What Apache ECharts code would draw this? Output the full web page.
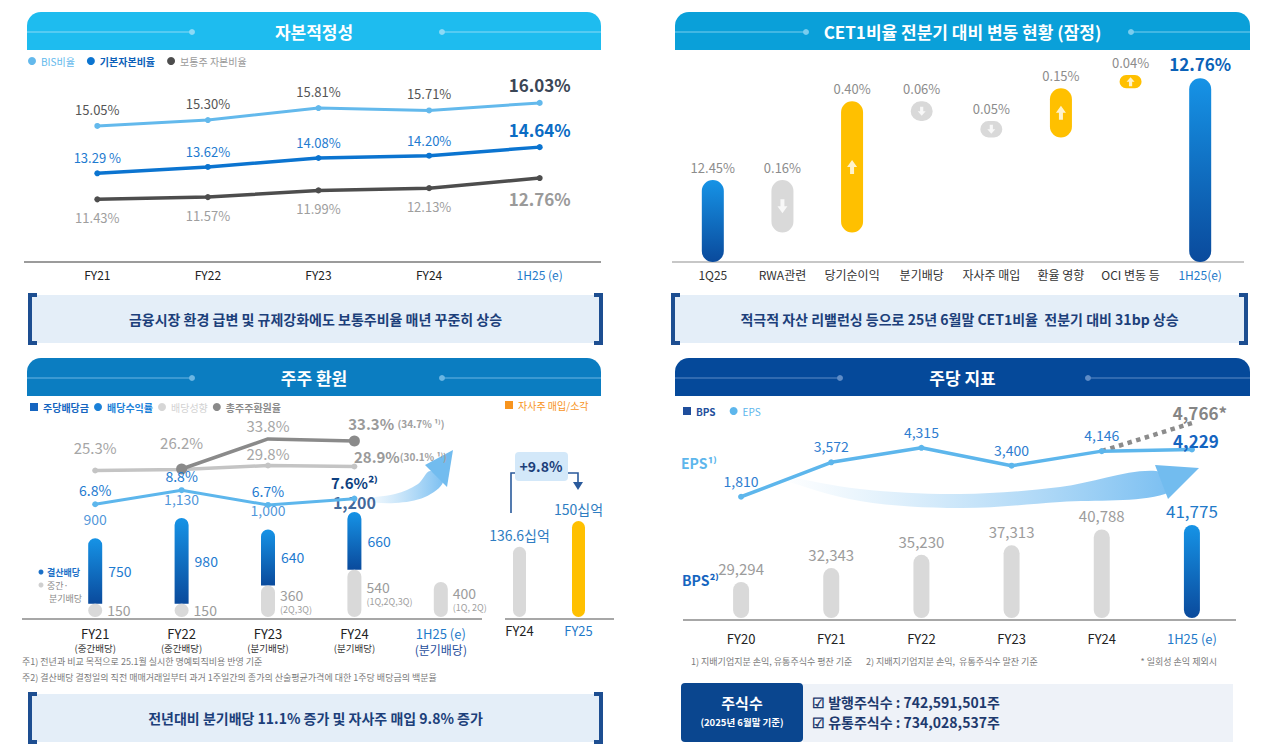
<!DOCTYPE html>
<html>
<head>
<meta charset="utf-8">
<title>자본적정성 · CET1 · 주주환원 · 주당지표</title>
<style>
html,body{margin:0;padding:0;background:#fff;}
#main{width:1264px;height:750px;}
</style>
</head>
<body>
<div id="main"></div>
<script src="https://cdn.jsdelivr.net/npm/echarts@6/dist/echarts.min.js"></script>
<script>
var FONT = "'Noto Sans CJK KR', 'Noto Sans', sans-serif";

// 자본적정성 (%)
var capYears = ['FY21', 'FY22', 'FY23', 'FY24', '1H25 (e)'];
var bisRatio = [15.05, 15.30, 15.81, 15.71, 16.03];
var tier1Ratio = [13.29, 13.62, 14.08, 14.20, 14.64];
var cet1Ratio = [11.43, 11.57, 11.99, 12.13, 12.76];

// CET1비율 전분기 대비 변동 (%p)
var cetSteps = ['1Q25', 'RWA관련', '당기순이익', '분기배당', '자사주 매입', '환율 영향', 'OCI 변동 등', '1H25(e)'];
var cetChange = [12.45, -0.16, 0.40, -0.06, -0.05, 0.15, 0.04, 12.76];

// 주주 환원
var dpsYears = ['FY21', 'FY22', 'FY23', 'FY24', '1H25 (e)'];
var dpsNotes = ['(중간배당)', '(중간배당)', '(분기배당)', '(분기배당)', '(분기배당)'];
var dpsTotal = [900, 1130, 1000, 1200, null];
var dpsFinal = [750, 980, 640, 660, null];
var dpsInterim = [150, 150, 360, 540, 400];
var dpsQuarters = ['', '', '(2Q,3Q)', '(1Q,2Q,3Q)', '(1Q, 2Q)'];
var divYield = [6.8, 8.8, 6.7, 7.6, null];
var payoutRatio = [25.3, 26.2, 29.8, 28.9, null];
var tsrRatio = [null, 26.2, 33.8, 33.3, null];
var buybackYears = ['FY24', 'FY25'];
var buybackAmt = [136.6, 150];

// 주당 지표 (원)
var psYears = ['FY20', 'FY21', 'FY22', 'FY23', 'FY24', '1H25 (e)'];
var eps = [1810, 3572, 4315, 3400, 4146, 4229];
var epsExOneOff = [null, null, null, null, 4146, 4766];
var bps = [29294, 32343, 35230, 37313, 40788, 41775];

var chart = echarts.init(document.getElementById('main'), null, {renderer: 'svg'});

function grad(a, b) {
  return new echarts.graphic.LinearGradient(0, 0, 0, 1, [{offset: 0, color: a}, {offset: 1, color: b}]);
}
var BLUE = grad('#1693E6', '#0A4A9C');
function fmt(n) { return n.toLocaleString('en-US'); }

function txt(x, y, s, o) {
  o = o || {};
  return {
    type: 'text', x: x, y: y, z: 20,
    style: {
      text: s, fill: o.fill || '#333', fontSize: o.fontSize || 12,
      fontWeight: o.fontWeight || 'normal', fontFamily: FONT,
      align: o.align || 'left', textAlign: o.align || 'left',
      verticalAlign: 'middle', textVerticalAlign: 'middle'
    }
  };
}
function header(x, y, w, fill, lineColor, title, lx, rx) {
  var ly = y + 20;
  return [
    {type: 'rect', shape: {x: x, y: y, width: w, height: 38, r: [14, 14, 0, 0]}, style: {fill: fill}},
    {type: 'line', shape: {x1: x, y1: ly, x2: lx, y2: ly}, style: {stroke: lineColor, lineWidth: 1.2}},
    {type: 'circle', shape: {cx: lx, cy: ly, r: 3}, style: {fill: lineColor}},
    {type: 'line', shape: {x1: rx, y1: ly, x2: x + w, y2: ly}, style: {stroke: lineColor, lineWidth: 1.2}},
    {type: 'circle', shape: {cx: rx, cy: ly, r: 3}, style: {fill: lineColor}},
    txt(x + w / 2, y + 19, title, {fill: '#fff', fontSize: 17, fontWeight: 'bold', align: 'center'})
  ];
}
function banner(x, y, w, h, s) {
  var c = '#1D4E91';
  return [
    {type: 'rect', shape: {x: x, y: y, width: w, height: h}, style: {fill: '#E4EEF8'}},
    {type: 'polyline', shape: {points: [[x + 7, y], [x, y], [x, y + h], [x + 7, y + h]]}, style: {stroke: c, lineWidth: 4, fill: null}},
    {type: 'polyline', shape: {points: [[x + w - 7, y], [x + w, y], [x + w, y + h], [x + w - 7, y + h]]}, style: {stroke: c, lineWidth: 4, fill: null}},
    txt(x + w / 2, y + h / 2, s, {fill: '#1C3F7A', fontSize: 14, fontWeight: 'bold', align: 'center'})
  ];
}
function baseline(x1, x2, y, c) {
  return {type: 'line', shape: {x1: x1, y1: y, x2: x2, y2: y}, style: {stroke: c || '#8a8a8a', lineWidth: 1.5}};
}
function swoosh(upper, lower, head) {
  var fill = new echarts.graphic.LinearGradient(0, 0, 1, 0, [
    {offset: 0, color: 'rgba(150,205,244,0)'}, {offset: 1, color: 'rgba(110,185,240,0.9)'}]);
  return [
    {type: 'polygon', z: 1, shape: {points: upper.concat(lower), smooth: 0.35}, style: {fill: fill}},
    {type: 'polygon', z: 1, shape: {points: head}, style: {fill: '#72BCEF'}}
  ];
}

// --- waterfall pieces from cetChange
var CET_MIN = 12.2;
var cetBase = [], cetBar = [], cetArrow = [];
var run = cetChange[0];
cetChange.forEach(function (v, i) {
  var last = i === cetChange.length - 1;
  if (i === 0 || last) {
    cetBase.push(CET_MIN);
    cetBar.push({value: v - CET_MIN, itemStyle: {color: BLUE},
      label: last ? {color: '#0B62B8', fontSize: 17, fontWeight: 'bold'} : {}});
  } else {
    var lo = v < 0 ? run + v : run;
    run += v;
    cetBase.push(lo);
    cetBar.push({value: Math.abs(v), itemStyle: {color: v < 0 ? '#D9D9D9' : '#FFC000'}});
    cetArrow.push({value: [i, lo + Math.abs(v) / 2], symbolRotate: v < 0 ? 180 : 0,
      symbolSize: Math.abs(v) >= 0.1 ? [10, 14] : [8, 9]});
  }
});

function lastBold(arr, style) {
  return arr.map(function (v, i) {
    return i === arr.length - 1 ? {value: v, label: style} : v;
  });
}
var ARROW = 'path://M5,0 L10,5 L7,5 L7,10 L3,10 L3,5 L0,5 Z';
var hidden = {show: false};

var graphics = []
  .concat(header(27, 12, 574, '#1EBCEF', '#8BDAF6', '자본적정성', 192, 442))
  .concat(header(675, 12, 575, '#0AA0D9', '#7ACDEE', 'CET1비율 전분기 대비 변동 현황 (잠정)', 806, 1131))
  .concat(header(27, 358, 574, '#0B7DC1', '#6CB6E3', '주주 환원', 192, 442))
  .concat(header(675, 358, 575, '#05499A', '#5F8CC6', '주당 지표', 840, 1088))
  .concat(banner(30, 295, 571, 48, '금융시장 환경 급변 및 규제강화에도 보통주비율 매년 꾸준히 상승'))
  .concat(banner(673, 295, 573, 48, '적극적 자산 리밸런싱 등으로 25년 6월말 CET1비율  전분기 대비 31bp 상승'))
  .concat(banner(30, 694, 571, 48, '전년대비 분기배당 11.1% 증가 및 자사주 매입 9.8% 증가'))
  .concat([
    baseline(24, 601, 262, '#7a7a7a'),
    baseline(672, 1244, 262, '#b5b5b5'),
    baseline(22, 482, 619, '#8a8a8a'),
    baseline(505, 614, 619, '#8a8a8a'),
    baseline(683, 1236, 620, '#8a8a8a')
  ])
  .concat(swoosh([[360, 499], [395, 494], [418, 484], [430, 471]], [[443, 482], [425, 497], [395, 503], [360, 501]],
    [[425, 465], [453, 450], [447, 487]]))
  .concat(swoosh([[780, 476], [860, 489], [960, 494], [1060, 487], [1156, 471]],
    [[1165, 494], [1060, 502], [960, 508], [860, 501], [780, 479]],
    [[1155, 465], [1199, 468], [1168, 499]]))
  .concat([
    // 결산/중간 mini legend
    {type: 'circle', shape: {cx: 41, cy: 572, r: 2.5}, style: {fill: '#1A6FC7'}},
    txt(47, 572, '결산배당', {fill: '#1A6FC7', fontSize: 9, fontWeight: 'bold'}),
    {type: 'circle', shape: {cx: 41, cy: 585, r: 2.5}, style: {fill: '#cfcfcf'}},
    txt(47, 585, '중간·', {fill: '#8a8a8a', fontSize: 9}),
    txt(49, 598, '분기배당', {fill: '#8a8a8a', fontSize: 9}),
    // +9.8% callout
    {type: 'rect', shape: {x: 515, y: 452, width: 53, height: 29, r: 4}, style: {fill: '#D3E8F9'}},
    txt(541, 466, '+9.8%', {fill: '#1C3F7A', fontSize: 14, fontWeight: 'bold', align: 'center'}),
    {type: 'polyline', shape: {points: [[511, 513], [511, 473], [515, 473]]}, style: {stroke: '#2A5A9C', lineWidth: 1.6, fill: null}},
    {type: 'polyline', shape: {points: [[568, 473], [578, 473], [578, 483]]}, style: {stroke: '#2A5A9C', lineWidth: 1.6, fill: null}},
    {type: 'polygon', shape: {points: [[573, 482], [583, 482], [578, 490]]}, style: {fill: '#2A5A9C'}},
    // footnotes
    txt(22, 661, '주1) 전년과 비교 목적으로 25.1월 실시한 명예퇴직비용 반영 기준', {fill: '#7a7a7a', fontSize: 9}),
    txt(22, 677, '주2) 결산배당 결정일의 직전 매매거래일부터 과거 1주일간의 종가의 산술평균가격에 대한 1주당 배당금의 백분율', {fill: '#7a7a7a', fontSize: 9}),
    txt(691, 661, '1) 지배기업지분 손익, 유통주식수 평잔 기준', {fill: '#7a7a7a', fontSize: 9}),
    txt(866, 661, '2) 지배지기업지분 손익,  유통주식수 말잔 기준', {fill: '#7a7a7a', fontSize: 9}),
    txt(1217, 661, '* 일회성 손익 제외시', {fill: '#7a7a7a', fontSize: 9, align: 'right'}),
    // EPS / BPS side titles
    txt(681, 463, 'EPS¹⁾', {fill: '#5DB6EC', fontSize: 14, fontWeight: 'bold'}),
    txt(682, 580, 'BPS²⁾', {fill: '#1565C0', fontSize: 14, fontWeight: 'bold'}),
    // share count box
    {type: 'rect', shape: {x: 803, y: 684, width: 430, height: 58}, style: {fill: '#EEF2F8'}},
    {type: 'rect', shape: {x: 681, y: 683, width: 122, height: 59, r: 4}, style: {fill: '#0A468F'}},
    txt(742, 702, '주식수', {fill: '#fff', fontSize: 15, fontWeight: 'bold', align: 'center'}),
    txt(742, 722, '(2025년 6월말 기준)', {fill: '#fff', fontSize: 9.5, fontWeight: 'bold', align: 'center'}),
    txt(812, 702, '☑ 발행주식수 : 742,591,501주', {fill: '#1E3A6E', fontSize: 14, fontWeight: 'bold'}),
    txt(812, 722, '☑ 유통주식수 : 734,028,537주', {fill: '#1E3A6E', fontSize: 14, fontWeight: 'bold'})
  ]);

function catLabel(color, lastColor, size) {
  return {
    interval: 0, margin: 6,
    formatter: function (v, i) { return (v.indexOf('1H25') === 0 ? '{b|' : '{a|') + v + '}'; },
    rich: {a: {color: color, fontSize: size}, b: {color: lastColor, fontSize: size}}
  };
}
function catAxis(grid, data, label) {
  return {type: 'category', gridIndex: grid, data: data, axisLine: hidden, axisTick: hidden,
    splitLine: hidden, axisLabel: label};
}
function valAxis(grid, min, max, extra) {
  var a = {type: 'value', gridIndex: grid, min: min, max: max, show: false, splitLine: hidden};
  if (extra) for (var k in extra) a[k] = extra[k];
  return a;
}

var option = {
  backgroundColor: '#fff',
  animation: false,
  textStyle: {fontFamily: FONT},
  graphic: {elements: graphics},
  legend: [
    {left: 28, top: 56, padding: 0, itemWidth: 8, itemHeight: 8, itemGap: 12, icon: 'circle', selectedMode: false,
      textStyle: {fontSize: 10, fontFamily: FONT},
      data: [{name: 'BIS비율', textStyle: {color: '#63B9EC'}},
        {name: '기본자본비율', textStyle: {color: '#0B5FB8', fontWeight: 'bold'}},
        {name: '보통주 자본비율', textStyle: {color: '#9a9a9a'}}]},
    {left: 30, top: 402, padding: 0, itemWidth: 8, itemHeight: 8, itemGap: 5, selectedMode: false,
      textStyle: {fontSize: 10, fontFamily: FONT},
      data: [{name: '주당배당금', icon: 'rect', itemStyle: {color: '#1565C0'}, textStyle: {color: '#1565C0', fontWeight: 'bold'}},
        {name: '배당수익률', icon: 'circle', itemStyle: {color: '#1A80D8'}, textStyle: {color: '#1A80D8', fontWeight: 'bold'}},
        {name: '배당성향', icon: 'circle', itemStyle: {color: '#d6d6d6'}, textStyle: {color: '#d2d2d2'}},
        {name: '총주주환원율', icon: 'circle', itemStyle: {color: '#8a8a8a'}, textStyle: {color: '#8a8a8a', fontWeight: 'bold'}}]},
    {left: 505, top: 400, padding: 0, itemWidth: 8, itemHeight: 8, selectedMode: false,
      textStyle: {fontSize: 10, fontFamily: FONT},
      data: [{name: '자사주 매입/소각', icon: 'rect', itemStyle: {color: '#F7941D'}, textStyle: {color: '#F7941D'}}]},
    {left: 683, top: 406, padding: 0, itemWidth: 8, itemHeight: 8, itemGap: 14, selectedMode: false,
      textStyle: {fontSize: 10, fontFamily: FONT},
      data: [{name: 'BPS', icon: 'rect', itemStyle: {color: '#1F4E9C'}, textStyle: {color: '#1F4E9C', fontWeight: 'bold'}},
        {name: 'EPS', icon: 'circle', itemStyle: {color: '#5DB6EC'}, textStyle: {color: '#5DB6EC'}}]}
  ],
  grid: [
    {left: 42, top: 70, width: 553, height: 192},
    {left: 678, top: 39, width: 557, height: 223},
    {left: 52, top: 420, width: 432, height: 197},
    {left: 490, top: 420, width: 118, height: 197},
    {left: 696, top: 400, width: 541, height: 218}
  ],
  xAxis: [
    catAxis(0, capYears, catLabel('#222', '#1F7AC9', 12)),
    catAxis(1, cetSteps, catLabel('#333', '#1F7AC9', 12)),
    catAxis(2, dpsYears, {
      interval: 0, margin: 9,
      formatter: function (v, i) {
        return i === 4 ? '{nb|' + v + '}\n{sb|' + dpsNotes[i] + '}' : '{n|' + v + '}\n{s|' + dpsNotes[i] + '}';
      },
      rich: {n: {color: '#222', fontSize: 13, lineHeight: 15}, s: {color: '#333', fontSize: 9.5, lineHeight: 13},
        nb: {color: '#1F7AC9', fontSize: 13, lineHeight: 15}, sb: {color: '#1F4E9C', fontSize: 12, lineHeight: 16}}
    }),
    catAxis(3, buybackYears, {interval: 0, margin: 7, formatter: function (v, i) { return (i === 1 ? '{b|' : '{a|') + v + '}'; },
      rich: {a: {color: '#222', fontSize: 13}, b: {color: '#1F7AC9', fontSize: 13}}}),
    catAxis(4, psYears, {interval: 0, margin: 14, formatter: function (v) { return (v.indexOf('1H25') === 0 ? '{b|' : '{a|') + v + '}'; },
      rich: {a: {color: '#222', fontSize: 13}, b: {color: '#1F7AC9', fontSize: 13}}})
  ],
  yAxis: [
    valAxis(0, 9.26, 17.43),
    valAxis(0, 8.718, 18.616),
    valAxis(0, 7.522, 19.50),
    valAxis(1, CET_MIN, 12.88),
    valAxis(2, 0, 2250),
    valAxis(2, -9.26, 18.80),
    valAxis(2, -106.7, 70.8),
    valAxis(2, -11.27, 38.6),
    valAxis(3, 100, 202.6, {startValue: 100}),
    valAxis(4, 21417, 69117, {startValue: 21417}),
    valAxis(4, -4398, 6764),
    valAxis(4, 454, 5276)
  ],
  series: [
    // 자본적정성
    {name: 'BIS비율', type: 'line', xAxisIndex: 0, yAxisIndex: 0, color: '#63B9EC',
      lineStyle: {width: 3}, symbol: 'circle', symbolSize: 6,
      label: {show: true, position: 'top', distance: 7, color: '#555', fontSize: 13,
        formatter: function (p) { return p.value.toFixed(2) + '%'; }},
      data: lastBold(bisRatio, {color: '#3B4656', fontSize: 17, fontWeight: 'bold'})},
    {name: '기본자본비율', type: 'line', xAxisIndex: 0, yAxisIndex: 1, color: '#0B74D0',
      lineStyle: {width: 3.5}, symbol: 'circle', symbolSize: 6,
      label: {show: true, position: 'top', distance: 6, color: '#1E7BD0', fontSize: 13,
        formatter: function (p) { return p.value.toFixed(2) + (p.dataIndex === 0 ? ' %' : '%'); }},
      data: lastBold(tier1Ratio, {color: '#0B6CC4', fontSize: 17, fontWeight: 'bold'})},
    {name: '보통주 자본비율', type: 'line', xAxisIndex: 0, yAxisIndex: 2, color: '#4D4D4D',
      lineStyle: {width: 3.5}, symbol: 'circle', symbolSize: 6,
      label: {show: true, position: 'bottom', distance: 9, color: '#9E9E9E', fontSize: 13,
        formatter: function (p) { return p.value.toFixed(2) + '%'; }},
      data: lastBold(cet1Ratio, {color: '#9A9A9A', fontSize: 17, fontWeight: 'bold'})},

    // CET1 waterfall
    {name: 'cetBase', type: 'bar', xAxisIndex: 1, yAxisIndex: 3, stack: 'cet', barWidth: 22, silent: true,
      itemStyle: {color: 'rgba(0,0,0,0)'}, data: cetBase},
    {name: 'cetMove', type: 'bar', xAxisIndex: 1, yAxisIndex: 3, stack: 'cet', barWidth: 22,
      itemStyle: {borderRadius: 11},
      label: {show: true, position: 'top', distance: 6, color: '#8C8C8C', fontSize: 13,
        formatter: function (p) { return Math.abs(cetChange[p.dataIndex]).toFixed(2) + '%'; }},
      data: cetBar},
    {name: 'cetArrow', type: 'scatter', xAxisIndex: 1, yAxisIndex: 3, symbol: ARROW, silent: true, z: 5,
      itemStyle: {color: '#fff'}, data: cetArrow},

    // 주주 환원
    {name: '중간·분기배당', type: 'bar', xAxisIndex: 2, yAxisIndex: 4, stack: 'dps', barWidth: 14,
      itemStyle: {color: '#D9D9D9', borderRadius: 7},
      label: {show: true, position: 'right', distance: 5,
        formatter: function (p) {
          var q = dpsQuarters[p.dataIndex];
          return '{a|' + fmt(p.value) + '}' + (q ? '\n{q|' + q + '}' : '');
        },
        rich: {a: {color: '#9C9C9C', fontSize: 14, lineHeight: 16}, q: {color: '#A0A0A0', fontSize: 9, lineHeight: 13}}},
      data: dpsInterim},
    {name: '주당배당금', type: 'bar', xAxisIndex: 2, yAxisIndex: 4, stack: 'dps', barWidth: 14, z: 1,
      itemStyle: {color: BLUE, borderRadius: [7, 7, 0, 0]},
      label: {show: true, position: 'right', distance: 6, color: '#1E7BD0', fontSize: 14,
        formatter: function (p) { return p.value == null ? '' : fmt(p.value); }},
      data: dpsFinal},
    {name: 'dpsTotal', type: 'scatter', xAxisIndex: 2, yAxisIndex: 4, symbolSize: 1, silent: true,
      itemStyle: {color: 'rgba(0,0,0,0)'},
      label: {show: true, position: 'top', distance: 12, color: '#1E7BD0', fontSize: 14,
        formatter: function (p) { return fmt(p.value); }},
      data: lastBold(dpsTotal.slice(0, 4), {color: '#0D3F80', fontSize: 16, fontWeight: 'bold', distance: 1})},
    {name: '배당수익률', type: 'line', xAxisIndex: 2, yAxisIndex: 5, color: '#5DB6EC', z: 4,
      lineStyle: {width: 3}, symbol: 'circle', symbolSize: 6,
      label: {show: true, position: 'top', distance: 4, color: '#1E7BD0', fontSize: 14,
        formatter: function (p) { return p.value.toFixed(1) + '%'; }},
      data: divYield.map(function (v, i) {
        return i === 3 ? {value: v, label: {color: '#0D3F80', fontSize: 15, fontWeight: 'bold', distance: 6,
          formatter: function (p) { return p.value.toFixed(1) + '%²⁾'; }}} : v;
      })},
    {name: '배당성향', type: 'line', xAxisIndex: 2, yAxisIndex: 6, color: '#C4C4C4', z: 3,
      lineStyle: {width: 3.5}, symbol: 'circle', symbolSize: 6,
      label: {show: true, position: 'top', distance: 12, color: '#A6A6A6', fontSize: 15,
        formatter: function (p) { return p.value.toFixed(1) + '%'; }},
      data: payoutRatio.map(function (v, i) {
        if (i === 0) return {value: v, label: {distance: 12}};
        if (i === 1) return {value: v, label: {distance: 16}};
        if (i === 2) return {value: v, label: {distance: 2}};
        if (i === 3) return {value: v, label: {position: 'top', distance: 0, offset: [46, 0],
          formatter: function (p) { return '{b|' + p.value.toFixed(1) + '%}{s|(30.1% ¹⁾)}'; },
          rich: {b: {color: '#9A9A9A', fontSize: 15, fontWeight: 'bold'}, s: {color: '#A0A0A0', fontSize: 10, fontWeight: 'bold'}}}};
        return v;
      })},
    {name: '총주주환원율', type: 'line', xAxisIndex: 2, yAxisIndex: 7, color: '#8A8A8A', z: 3,
      lineStyle: {width: 3.5}, symbol: 'circle', symbolSize: 11,
      label: {show: true, position: 'top', distance: 6, color: '#A6A6A6', fontSize: 15,
        formatter: function (p) { return p.value.toFixed(1) + '%'; }},
      data: tsrRatio.map(function (v, i) {
        if (i === 1) return {value: v, label: {show: false}};
        if (i === 2) return {value: v, symbolSize: 0};
        if (i === 3) return {value: v, label: {distance: 4, offset: [42, 0],
          formatter: function (p) { return '{b|' + p.value.toFixed(1) + '%} {s|(34.7% ¹⁾)}'; },
          rich: {b: {color: '#9A9A9A', fontSize: 15, fontWeight: 'bold'}, s: {color: '#A0A0A0', fontSize: 10, fontWeight: 'bold'}}}};
        return v;
      })},
    {name: '자사주 매입/소각', type: 'bar', xAxisIndex: 3, yAxisIndex: 8, barWidth: 13,
      itemStyle: {color: '#F7941D', borderRadius: 7},
      label: {show: true, position: 'top', distance: 5, color: '#2E7DC2', fontSize: 14,
        formatter: function (p) { return p.value + '십억'; }},
      data: buybackAmt.map(function (v, i) {
        return {value: v, itemStyle: {color: i === 0 ? '#D9D9D9' : '#FFC000'}};
      })},

    // 주당 지표
    {name: 'BPS', type: 'bar', xAxisIndex: 4, yAxisIndex: 9, barWidth: 16, color: '#1F4E9C',
      itemStyle: {borderRadius: 8},
      label: {show: true, position: 'top', distance: 6, color: '#9C9C9C', fontSize: 15,
        formatter: function (p) { return fmt(p.value); }},
      data: bps.map(function (v, i) {
        return i === bps.length - 1
          ? {value: v, itemStyle: {color: BLUE}, label: {color: '#1F7AC9', fontSize: 17}}
          : {value: v, itemStyle: {color: '#D9D9D9'}};
      })},
    {name: '일회성 손익 제외시', type: 'line', xAxisIndex: 4, yAxisIndex: 11, color: '#8C8C8C', z: 3,
      lineStyle: {width: 4.5, type: 'dotted'}, symbol: 'circle', symbolSize: 0,
      label: {show: false},
      data: epsExOneOff.map(function (v, i) {
        return i === 5 ? {value: v, label: {show: true, position: 'top', distance: 2, offset: [8, 0],
          color: '#858585', fontSize: 17, fontWeight: 'bold', formatter: function (p) { return fmt(p.value) + '*'; }}} : v;
      })},
    {name: 'EPS', type: 'line', xAxisIndex: 4, yAxisIndex: 10, color: '#5DB6EC', z: 4,
      lineStyle: {width: 3.5}, symbol: 'circle', symbolSize: 6,
      label: {show: true, position: 'top', distance: 6, color: '#2E7DD0', fontSize: 14,
        formatter: function (p) { return fmt(p.value); }},
      data: lastBold(eps, {color: '#1565C0', fontSize: 17, fontWeight: 'bold', distance: 0, offset: [4, 2]})}
  ]
};
chart.setOption(option);
</script>
</body>
</html>
